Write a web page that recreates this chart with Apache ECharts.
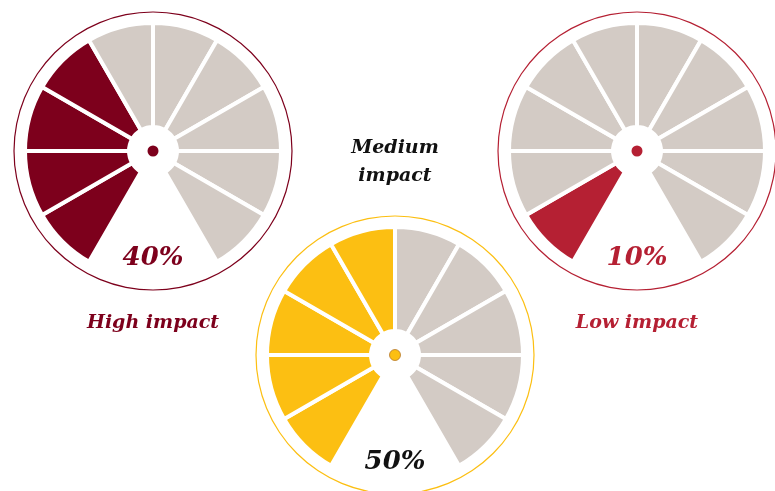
<!DOCTYPE html>
<html>
<head>
<meta charset="utf-8">
<script src="https://cdn.jsdelivr.net/npm/echarts@6/dist/echarts.min.js"></script>
<style>
  html, body { margin: 0; padding: 0; background: #ffffff; }
  #chart { width: 775px; height: 491px; }
</style>
</head>
<body>
<div id="chart"></div>
<script>
// Impact levels, their share (percent) and colours
const levels = ['High impact', 'Medium impact', 'Low impact'];
const shares = [40, 50, 10];
const fillColors = ['#7d001c', '#fcbf12', '#b52033'];
const labelColors = ['#7d001c', '#111111', '#b52033'];
const labelLines = [['High impact'], ['Medium', 'impact'], ['Low impact']];

// Each dial has ten segments, one per 10%
const SEGMENTS = 10;
const STEP = 100 / SEGMENTS;
const EMPTY = '#d3cbc5';

// Dial placement (centre in px)
const centers = [[153, 151], [395, 355], [637, 151]];
const R_OUT = 128, R_IN = 24, R_RIM = 139;

const chart = echarts.init(document.getElementById('chart'), null, { renderer: 'canvas' });

const series = [];
const graphic = [];

levels.forEach(function (name, i) {
  const c = centers[i];
  const filled = Math.round(shares[i] / STEP);
  const segs = [];
  for (let k = 0; k < SEGMENTS; k++) {
    segs.push({
      value: STEP,
      name: name + ' ' + k,
      itemStyle: { color: k < filled ? fillColors[i] : EMPTY }
    });
  }
  // Thin outer rim
  series.push({
    type: 'pie', silent: true, animation: false,
    center: c, radius: [R_RIM - 0.6, R_RIM + 0.6],
    label: { show: false }, labelLine: { show: false },
    itemStyle: { color: fillColors[i] },
    data: [{ value: 1, name: name + ' rim' }]
  });
  // Segmented dial: from 7 o'clock, clockwise, to 5 o'clock
  series.push({
    type: 'pie', silent: true, animation: false,
    center: c, radius: [R_IN, R_OUT],
    startAngle: 240, endAngle: -60, clockwise: true,
    label: { show: false }, labelLine: { show: false },
    itemStyle: { borderColor: '#ffffff', borderWidth: 4, borderJoin: 'miter' },
    data: segs
  });
  // Hub dot
  series.push({
    type: 'pie', silent: true, animation: false,
    center: c, radius: [0, 5.5],
    label: { show: false }, labelLine: { show: false },
    itemStyle: {
      color: fillColors[i],
      borderColor: i === 1 ? '#b8792a' : fillColors[i],
      borderWidth: i === 1 ? 0.8 : 0
    },
    data: [{ value: 1, name: name + ' hub' }]
  });
  // Percentage under the dial
  graphic.push({
    type: 'text', silent: true,
    x: c[0], y: c[1] + 107,
    style: {
      text: shares[i] + '%',
      fill: labelColors[i],
      font: 'italic bold 26px "DejaVu Serif", Georgia, serif',
      align: 'center', verticalAlign: 'middle'
    }
  });
});

// Impact names
const namePos = [[153, 323], [395, 148], [637, 323]];
labelLines.forEach(function (lines, i) {
  lines.forEach(function (t, j) {
    graphic.push({
      type: 'text', silent: true,
      x: namePos[i][0], y: namePos[i][1] + j * 28,
      style: {
        text: t,
        fill: labelColors[i],
        font: 'italic bold 19px "DejaVu Serif", Georgia, serif',
        align: 'center', verticalAlign: 'middle'
      }
    });
  });
});

chart.setOption({
  backgroundColor: '#ffffff',
  animation: false,
  series: series,
  graphic: graphic
});
</script>
</body>
</html>
